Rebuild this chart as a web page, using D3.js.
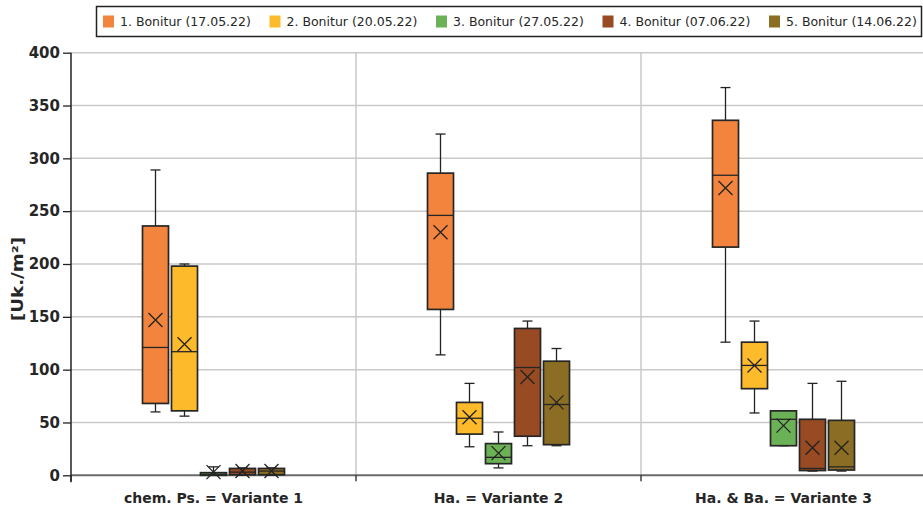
<!DOCTYPE html>
<html>
<head>
<meta charset="utf-8">
<script src="https://cdn.jsdelivr.net/npm/d3@7"></script>
<style>
  body { margin: 0; background: #fff; }
  text { font-family: "DejaVu Sans", sans-serif; fill: #262626; }
</style>
</head>
<body>
<div id="chart"></div>
<script>
// categories and series
const categories = ["chem. Ps. = Variante 1", "Ha. = Variante 2", "Ha. & Ba. = Variante 3"];
const series = ["1. Bonitur (17.05.22)", "2. Bonitur (20.05.22)", "3. Bonitur (27.05.22)",
                "4. Bonitur (07.06.22)", "5. Bonitur (14.06.22)"];
const colors = ["#f3843e", "#fdbb2b", "#6bb155", "#984a22", "#8c6d24"];
const yTicks = [0, 50, 100, 150, 200, 250, 300, 350, 400];

// box plot stats, [category][series]
const minVals    = [[60, 56, 0, 0, 0],     [114, 27, 7, 28, 28],   [126, 59, 28, 4, 4]];
const q1Vals     = [[68, 61, 0, 0.5, 0.5], [157, 39, 11, 37, 29],  [216, 82, 28, 4.5, 5]];
const medianVals = [[121, 117, 1, 3, 4],   [246, 54, 17, 102, 67], [284, 104, 53, 6.5, 8]];
const q3Vals     = [[236, 198, 2.5, 6.5, 6.5], [286, 69, 30, 139, 108], [336, 126, 61, 53, 52]];
const maxVals    = [[289, 200, 8, 7, 7],   [323, 87, 41, 146, 120], [367, 146, 61, 87, 89]];
const meanVals   = [[147, 124, 3, 4, 4],   [230, 55, 21, 93, 69],  [272, 104, 47, 26, 26]];

const width = 923, height = 510;
const plotL = 71, plotR = 926, plotT = 52.7, plotB = 475.3;

const svg = d3.select("#chart").append("svg")
  .attr("width", width)
  .attr("height", height)

const y = d3.scaleLinear().domain([0, 400]).range([plotB, plotT]);
const x0 = d3.scaleBand().domain(categories).range([plotL, plotR]);
const x1 = d3.scalePoint().domain(series).range([-58, 58]);
const color = d3.scaleOrdinal().domain(series).range(colors);

// horizontal grid
svg.selectAll("line.grid")
  .data(yTicks.filter(d => d > 0))
  .enter().append("line")
  .attr("x1", plotL).attr("x2", width)
  .attr("y1", d => y(d)).attr("y2", d => y(d))
  .attr("stroke", "#c9c9c9").attr("stroke-width", 1.5)

// vertical category dividers
svg.selectAll("line.div")
  .data(categories.slice(1))
  .enter().append("line")
  .attr("x1", d => x0(d)).attr("x2", d => x0(d))
  .attr("y1", plotT).attr("y2", plotB)
  .attr("stroke", "#c9c9c9").attr("stroke-width", 1.5)

// x axis line
svg.append("line")
  .attr("x1", plotL).attr("x2", width)
  .attr("y1", y(0)).attr("y2", y(0))
  .attr("stroke", "#6a6a6a").attr("stroke-width", 2)

// category ticks below axis
svg.selectAll("line.ctick")
  .data(categories)
  .enter().append("line")
  .attr("x1", d => x0(d)).attr("x2", d => x0(d))
  .attr("y1", y(0)).attr("y2", y(0) + 6)
  .attr("stroke", "#222").attr("stroke-width", 1.3)

// y axis
const yAxis = svg.append("g")
  .attr("transform", `translate(${plotL},0)`)
  .call(d3.axisLeft(y).tickValues(yTicks).tickSize(8).tickPadding(3))
yAxis.select(".domain").remove()
yAxis.selectAll(".tick line").attr("stroke", "#222").attr("stroke-width", 1.3)
yAxis.selectAll(".tick text")
  .style("font-family", "DejaVu Sans").style("font-size", "15px")
  .style("font-weight", "bold").attr("fill", "#262626")
svg.append("line")
  .attr("x1", plotL).attr("x2", plotL)
  .attr("y1", plotT).attr("y2", y(0) + 7)
  .attr("stroke", "#222").attr("stroke-width", 1.5)

// y label
svg.append("text")
  .attr("transform", `translate(23,${(plotT + plotB) / 2 + 15}) rotate(-90)`)
  .attr("text-anchor", "middle")
  .attr("textLength", 84).attr("lengthAdjust", "spacingAndGlyphs")
  .style("font-size", "16px").style("font-weight", "bold")
  .text("[Uk./m²]")

// category labels
svg.selectAll("text.cat")
  .data(categories)
  .enter().append("text")
  .attr("x", d => x0(d) + x0.bandwidth() / 2)
  .attr("y", 503)
  .attr("text-anchor", "middle")
  .style("font-size", "14px").style("font-weight", "bold")
  .text(d => d)

// flatten stats
const boxes = [];
categories.forEach((c, ci) => {
  series.forEach((s, si) => {
    boxes.push({
      cat: c, ser: s,
      min: minVals[ci][si], q1: q1Vals[ci][si], med: medianVals[ci][si],
      q3: q3Vals[ci][si], max: maxVals[ci][si], mean: meanVals[ci][si]
    })
  })
})

const boxW = 26, capW = 10, xs = 7;
const g = svg.selectAll("g.box")
  .data(boxes)
  .enter().append("g")
  .attr("transform", d => `translate(${x0(d.cat) + x0.bandwidth() / 2 + x1(d.ser)},0)`)

// whiskers
g.append("line")
  .attr("y1", d => y(d.max)).attr("y2", d => y(d.q3))
  .attr("stroke", "#222").attr("stroke-width", 1.3)
g.append("line")
  .attr("y1", d => y(d.min)).attr("y2", d => y(d.q1))
  .attr("stroke", "#222").attr("stroke-width", 1.3)
g.append("line")
  .attr("x1", -capW / 2).attr("x2", capW / 2)
  .attr("y1", d => y(d.max)).attr("y2", d => y(d.max))
  .attr("stroke", "#222").attr("stroke-width", 1.3)
g.append("line")
  .attr("x1", -capW / 2).attr("x2", capW / 2)
  .attr("y1", d => y(d.min)).attr("y2", d => y(d.min))
  .attr("stroke", "#222").attr("stroke-width", 1.3)

// box
g.append("rect")
  .attr("x", -boxW / 2).attr("width", boxW)
  .attr("y", d => y(d.q3))
  .attr("height", d => Math.max(0.5, y(d.q1) - y(d.q3)))
  .attr("fill", d => color(d.ser))
  .attr("stroke", "#262626").attr("stroke-width", 1.7)

// median
g.append("line")
  .attr("x1", -boxW / 2).attr("x2", boxW / 2)
  .attr("y1", d => y(d.med)).attr("y2", d => y(d.med))
  .attr("stroke", "#262626").attr("stroke-width", 1.3)

// mean marker
g.append("path")
  .attr("d", d => {
    const m = y(d.mean)
    return `M${-xs},${m - xs}L${xs},${m + xs}M${-xs},${m + xs}L${xs},${m - xs}`
  })
  .attr("stroke", "#222").attr("stroke-width", 1.3).attr("fill", "none")

// legend
svg.append("rect")
  .attr("x", 96.5).attr("y", 6.5).attr("width", 825).attr("height", 30)
  .attr("fill", "#fff").attr("stroke", "#222").attr("stroke-width", 1.5)

const legX = d3.scaleBand().domain(series).range([103, 103 + 5 * 166.5]);
const leg = svg.selectAll("g.leg")
  .data(series)
  .enter().append("g")
  .attr("transform", d => `translate(${legX(d)},0)`)
leg.append("rect")
  .attr("y", 15.5).attr("width", 11).attr("height", 12)
  .attr("fill", d => color(d))
leg.append("text")
  .attr("x", 17).attr("y", 26)
  .style("font-size", "12.5px")
  .text(d => d)
</script>
</body>
</html>
